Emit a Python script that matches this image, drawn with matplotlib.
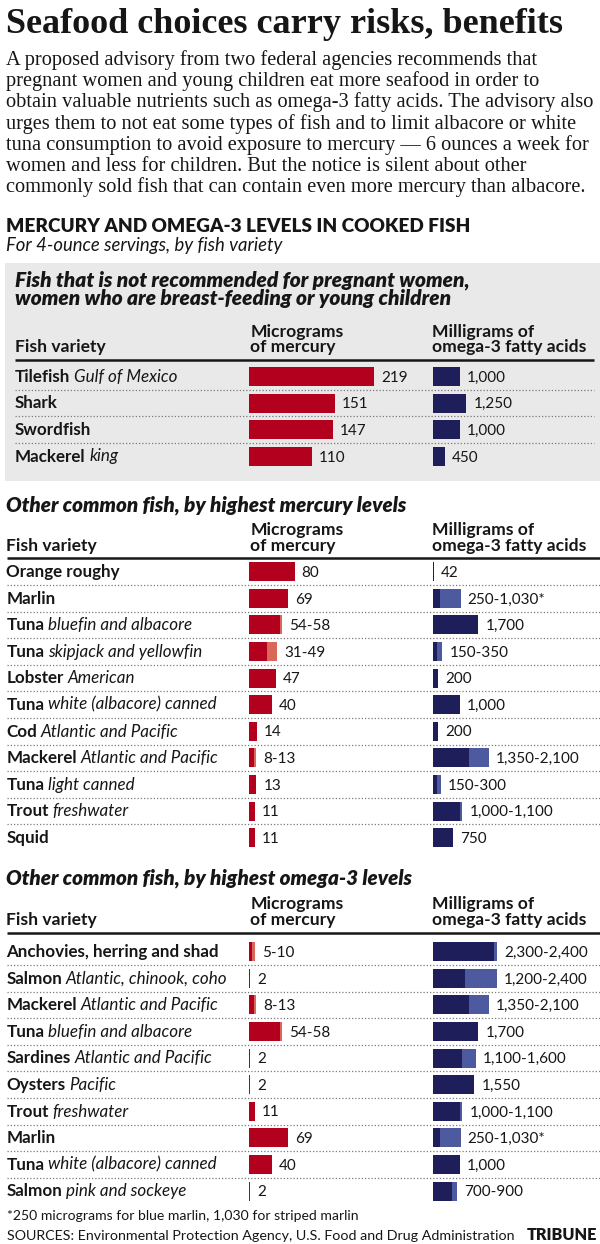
import numpy as np
import matplotlib
matplotlib.use('Agg')
from matplotlib import pyplot as plt
from matplotlib.patches import Rectangle

# ---- text ----
title = 'Seafood choices carry risks, benefits'
intro = [
    'A proposed advisory from two federal agencies recommends that',
    'pregnant women and young children eat more seafood in order to',
    'obtain valuable nutrients such as omega-3 fatty acids. The advisory also',
    'urges them to not eat some types of fish and to limit albacore or white',
    'tuna consumption to avoid exposure to mercury \u2014 6 ounces a week for',
    'women and less for children. But the notice is silent about other',
    'commonly sold fish that can contain even more mercury than albacore.',
]
heading = 'MERCURY AND OMEGA-3 LEVELS IN COOKED FISH'
subhead = 'For 4-ounce servings, by fish variety'
col_fish = 'Fish variety'
col_hg = ['Micrograms', 'of mercury']
col_om = ['Milligrams of', 'omega-3 fatty acids']
footnote = '*250 micrograms for blue marlin, 1,030 for striped marlin'
sources = 'SOURCES: Environmental Protection Agency, U.S. Food and Drug Administration'
credit = 'TRIBUNE'

# ---- data: section 1 ----
s1_title = ['Fish that is not recommended for pregnant women,',
            'women who are breast-feeding or young children']
s1_fish = ['Tilefish', 'Shark', 'Swordfish', 'Mackerel']
s1_kind = ['Gulf of Mexico', '', '', 'king']
s1_hg_lo = [219, 151, 147, 110]
s1_hg_hi = [219, 151, 147, 110]
s1_om_lo = [1000, 1250, 1000, 450]
s1_om_hi = [1000, 1250, 1000, 450]
s1_note = ['', '', '', '']

# ---- data: section 2 ----
s2_title = 'Other common fish, by highest mercury levels'
s2_fish = ['Orange roughy', 'Marlin', 'Tuna', 'Tuna', 'Lobster', 'Tuna', 'Cod',
           'Mackerel', 'Tuna', 'Trout', 'Squid']
s2_kind = ['', '', 'bluefin and albacore', 'skipjack and yellowfin', 'American',
           'white (albacore) canned', 'Atlantic and Pacific', 'Atlantic and Pacific',
           'light canned', 'freshwater', '']
s2_hg_lo = [80, 69, 54, 31, 47, 40, 14, 8, 13, 11, 11]
s2_hg_hi = [80, 69, 58, 49, 47, 40, 14, 13, 13, 11, 11]
s2_om_lo = [42, 250, 1700, 150, 200, 1000, 200, 1350, 150, 1000, 750]
s2_om_hi = [42, 1030, 1700, 350, 200, 1000, 200, 2100, 300, 1100, 750]
s2_note = ['', '*', '', '', '', '', '', '', '', '', '']

# ---- data: section 3 ----
s3_title = 'Other common fish, by highest omega-3 levels'
s3_fish = ['Anchovies, herring and shad', 'Salmon', 'Mackerel', 'Tuna', 'Sardines',
           'Oysters', 'Trout', 'Marlin', 'Tuna', 'Salmon']
s3_kind = ['', 'Atlantic, chinook, coho', 'Atlantic and Pacific', 'bluefin and albacore',
           'Atlantic and Pacific', 'Pacific', 'freshwater', '', 'white (albacore) canned',
           'pink and sockeye']
s3_hg_lo = [5, 2, 8, 54, 2, 2, 11, 69, 40, 2]
s3_hg_hi = [10, 2, 13, 58, 2, 2, 11, 69, 40, 2]
s3_om_lo = [2300, 1200, 1350, 1700, 1100, 1550, 1000, 250, 1000, 700]
s3_om_hi = [2400, 2400, 2100, 1700, 1600, 1550, 1100, 1030, 1000, 900]
s3_note = ['', '', '', '', '', '', '', '*', '', '']

# ---- style ----
INK = '#161616'
RED, RED_LT = '#b3001e', '#d9675a'
NAVY, NAVY_LT = '#1e1e5a', '#4d5aa0'
BOX = '#e9e9e9'
DOT = '#7a7a7a'
SANS = ['Lato', 'DejaVu Sans']
SERIF = ['Liberation Serif', 'DejaVu Serif']
HG_PX = 0.571     # pixels per microgram
OM_PX = 0.0267    # pixels per milligram
BAR_H = 19
DY = 26.6

W, H = 600, 1244
fig = plt.figure(figsize=(W / 100, H / 100), dpi=100)
cv = fig.add_axes([0, 0, 1, 1])
cv.set_xlim(0, W)
cv.set_ylim(H, 0)
cv.axis('off')
renderer = fig.canvas.get_renderer()


def txt(x, y, s, size=10, **kw):
    kw.setdefault('color', INK)
    kw.setdefault('family', SANS)
    return cv.text(x, y, s, fontsize=size, va='baseline', **kw)


def fit(t, width):
    w = t.get_window_extent(renderer).width
    t.set_fontsize(t.get_fontsize() * width / w)
    return t.get_fontsize()


def probe(s, width, **kw):
    t = txt(0, 0, s, **kw)
    size = fit(t, width)
    t.remove()
    return size


def px_axes(x0, x1, y0, y1):
    a = fig.add_axes([x0 / W, 1 - y1 / H, (x1 - x0) / W, (y1 - y0) / H])
    a.axis('off')
    return a


def fmt(lo, hi, note=''):
    s = f'{lo:,}' if lo == hi else f'{lo:,}-{hi:,}'
    return s + note


# title and intro
fit(txt(5.5, 33, title, 30, family=SERIF, weight='bold'), 555)
para = probe(intro[2], 589, size=14, family=SERIF)
for i, line in enumerate(intro):
    txt(6, 65 + 21.2 * i, line, para, family=SERIF)

fit(txt(6, 231.5, heading, 13, weight='heavy'), 459)
fit(txt(6, 251, subhead, 11, style='italic'), 277)

# shared sizes
size_col = probe(col_om[1], 154, weight='bold')
size_name = probe('Orange roughy', 114, weight='bold')
size_val = probe('1,350-2,100', 83)
size_sec = probe(s2_title, 400, weight='heavy', style='italic')

# gray box behind section 1
cv.add_patch(Rectangle((5, 263), 595, 218, color=BOX, zorder=0, lw=0))


def section(fish, kind, hg_lo, hg_hi, om_lo, om_hi, note, y0, head_y, rule_y,
            x_left, x_right):
    n = len(fish)
    rows = np.arange(n)
    # column headers
    txt(x_left, head_y + 15.5, col_fish, size_col, weight='bold')
    txt(250.5, head_y, col_hg[0], size_col, weight='bold')
    txt(250.5, head_y + 15.5, col_hg[1], size_col, weight='bold')
    txt(431.5, head_y, col_om[0], size_col, weight='bold')
    txt(431.5, head_y + 15.5, col_om[1], size_col, weight='bold')
    cv.plot([x_left, x_right], [rule_y, rule_y], color=INK, lw=1.8,
            solid_capstyle='butt')
    # row labels and dotted separators
    for i in range(n):
        yb = y0 + DY * i + 5.2
        tb = txt(x_left, yb, fish[i], size_name, weight='bold')
        if kind[i]:
            cv.annotate(kind[i], xy=(1, yb), xycoords=(tb, 'data'),
                        xytext=(3.5, 0), textcoords='offset pixels',
                        va='baseline', fontsize=size_name, style='italic',
                        family=SANS, color=INK)
        if i < n - 1:
            ys = y0 + DY * (i + 0.5)
            cv.plot([x_left, x_right], [ys, ys], color=DOT, lw=0.9,
                    ls=(0, (1, 1.6)))
    top, bot = y0 - DY / 2, y0 + (n - 0.5) * DY
    # mercury bars
    am = px_axes(249, 430, top, bot)
    am.set_xlim(0, 181 / HG_PX)
    am.set_ylim(n - 0.5, -0.5)
    hg_lo, hg_hi = np.array(hg_lo), np.array(hg_hi)
    am.barh(rows, hg_lo, height=BAR_H / DY, color=RED, lw=0)
    am.barh(rows, hg_hi - hg_lo, left=hg_lo, height=BAR_H / DY, color=RED_LT, lw=0)
    for i in rows:
        am.annotate(fmt(hg_lo[i], hg_hi[i]), xy=(hg_hi[i], i), xytext=(7, -5.2),
                    textcoords='offset pixels', va='baseline', fontsize=size_val,
                    family=SANS, color=INK)
    # omega-3 bars
    ao = px_axes(433, 600, top, bot)
    ao.set_xlim(0, 167 / OM_PX)
    ao.set_ylim(n - 0.5, -0.5)
    om_lo, om_hi = np.array(om_lo), np.array(om_hi)
    ao.barh(rows, om_lo, height=BAR_H / DY, color=NAVY, lw=0)
    ao.barh(rows, om_hi - om_lo, left=om_lo, height=BAR_H / DY, color=NAVY_LT, lw=0)
    for i in rows:
        ao.annotate(fmt(om_lo[i], om_hi[i], note[i]), xy=(om_hi[i], i),
                    xytext=(7, -5.2), textcoords='offset pixels', va='baseline',
                    fontsize=size_val, family=SANS, color=INK,
                    annotation_clip=False)


# section 1
t = txt(15.3, 286.7, s1_title[0], size_sec, weight='heavy', style='italic')
s1_size = fit(t, 454)
txt(15.3, 305, s1_title[1], s1_size, weight='heavy', style='italic')
section(s1_fish, s1_kind, s1_hg_lo, s1_hg_hi, s1_om_lo, s1_om_hi, s1_note,
        376.5, 336.7, 360, 15, 594)

# section 2
txt(6, 511.7, s2_title, size_sec, weight='heavy', style='italic')
section(s2_fish, s2_kind, s2_hg_lo, s2_hg_hi, s2_om_lo, s2_om_hi, s2_note,
        571.7, 535, 557.7, 6.5, 600)

# section 3
txt(6, 884, s3_title, size_sec, weight='heavy', style='italic')
section(s3_fish, s3_kind, s3_hg_lo, s3_hg_hi, s3_om_lo, s3_om_hi, s3_note,
        951.7, 909.5, 933.3, 6.5, 600)

# footer
fit(txt(6.9, 1220, footnote, 10), 351)
fit(txt(6.9, 1239.5, sources, 10), 506)
t = txt(597, 1239.5, credit, 10, weight='heavy', ha='right')
fit(t, 71)

fig.savefig('out.png', dpi=100)
